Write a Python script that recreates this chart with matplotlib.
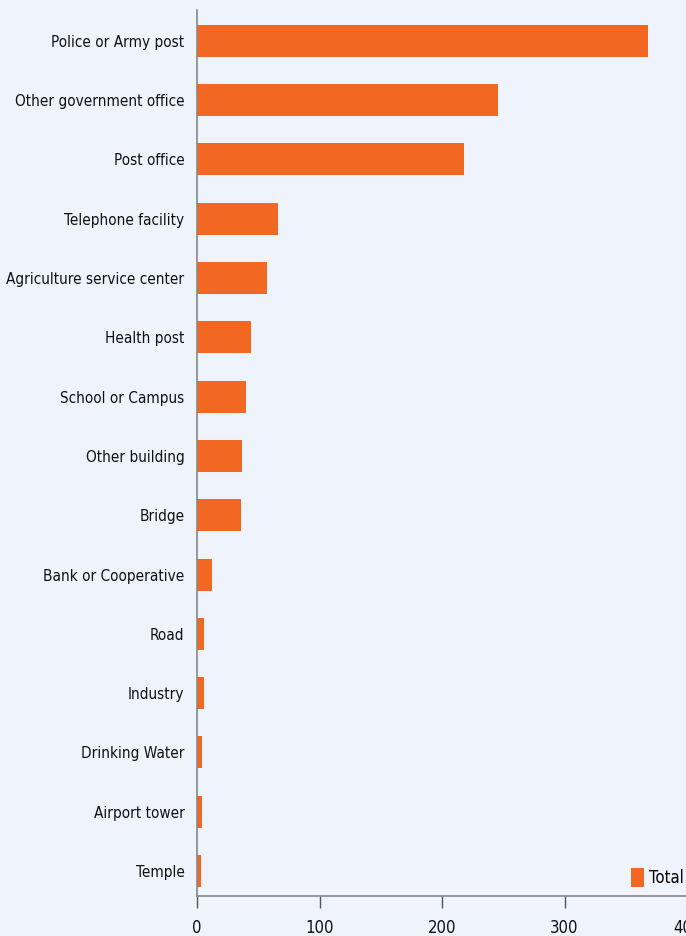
import matplotlib.pyplot as plt
import numpy as np

# Data
categories = ['Police or Army post', 'Other government office', 'Post office',
              'Telephone facility', 'Agriculture service center', 'Health post',
              'School or Campus', 'Other building', 'Bridge', 'Bank or Cooperative',
              'Road', 'Industry', 'Drinking Water', 'Airport tower', 'Temple']
totals = [368, 246, 218, 66, 57, 44, 40, 37, 36, 12, 6, 6, 4, 4, 3]
x_ticks = [0, 100, 200, 300, 400]

bg = '#eff3fb'
bar_color = '#f26722'
plt.rcParams['font.family'] = ['DejaVu Sans']
plt.rcParams['font.stretch'] = 'condensed'

fig = plt.figure(figsize=(6.86, 9.36), dpi=100, facecolor=bg)
ax = fig.add_axes([197 / 686, 40 / 936, 490 / 686, 886 / 936])
ax.set_facecolor(bg)

y = np.arange(len(categories))
ax.barh(y, totals, height=0.54, color=bar_color, label='Total')

ax.set_yticks(y)
ax.set_yticklabels(categories, fontsize=11, color='#111111')
ax.set_ylim(len(categories) - 1 + 0.42, -0.52)
ax.set_xlim(0, 400)
ax.set_xticks(x_ticks)
ax.set_xticklabels([str(t) for t in x_ticks], fontsize=12, color='#111111')

ax.tick_params(axis='y', length=0, pad=9)
ax.tick_params(axis='x', length=8.5, width=1, color='#555555', pad=8)

for side in ['top', 'right']:
    ax.spines[side].set_visible(False)
for side in ['left', 'bottom']:
    ax.spines[side].set_color('#888888')
    ax.spines[side].set_linewidth(1.2)

# legend sits in the lower right corner, no frame
ax.legend(loc='lower right', bbox_to_anchor=(1.0, 0.006), frameon=False,
          fontsize=12, handlelength=0.75, handleheight=1.35, handletextpad=0.3,
          borderaxespad=0.0, borderpad=0.2)

fig.savefig('out.png', dpi=100, facecolor=bg)
